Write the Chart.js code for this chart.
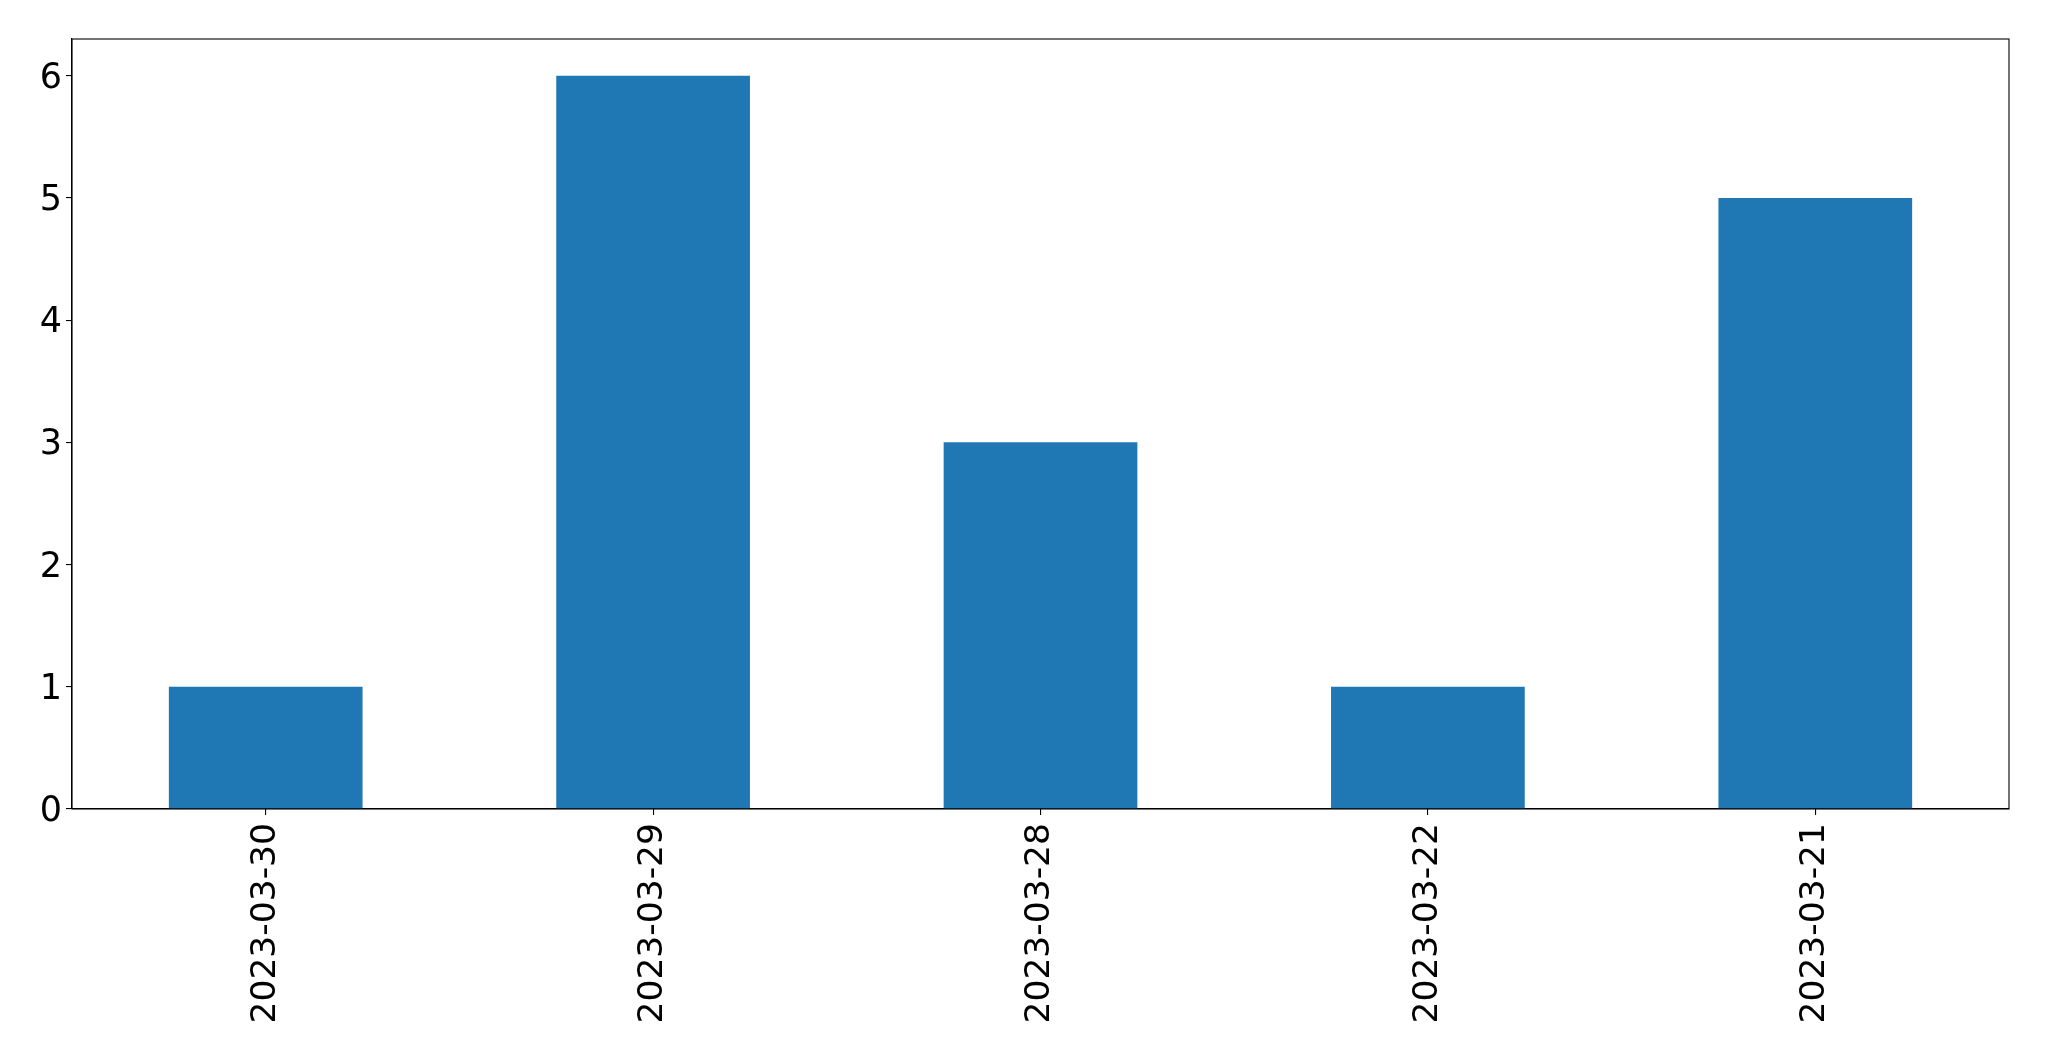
<!DOCTYPE html>
<html>
<head>
<meta charset="utf-8">
<script src="https://cdn.jsdelivr.net/npm/chart.js@4/dist/chart.umd.min.js"></script>
<style>
  html, body { margin: 0; padding: 0; background: #fff; }
  #wrap { width: 2049px; height: 1061px; }
</style>
</head>
<body>
<div id="wrap"><canvas id="myChart" width="2049" height="1061"></canvas></div>
<script>
// data
var dates = ["2023-03-30", "2023-03-29", "2023-03-28", "2023-03-22", "2023-03-21"];
var counts = [1, 6, 3, 1, 5];
var yTicks = [0, 1, 2, 3, 4, 5, 6];

var barColor = "#1f77b4";
var fontFamily = "'DejaVu Sans', sans-serif";

// matplotlib style frame around the plot area
var frameBox = {
    id: "frameBox",
    afterDraw: function (chart) {
        var a = chart.chartArea;
        var ctx = chart.ctx;
        ctx.save();
        ctx.strokeStyle = "#000";
        ctx.lineWidth = 1.1;
        ctx.strokeRect(a.left, a.top, a.right - a.left, a.bottom - a.top);
        ctx.restore();
    }
};

var ctx = document.getElementById("myChart").getContext("2d");
var myChart = new Chart(ctx, {
    type: "bar",
    data: {
        labels: dates,
        datasets: [{
            data: counts,
            backgroundColor: barColor,
            borderWidth: 0,
            barPercentage: 0.5,
            categoryPercentage: 1.0
        }]
    },
    options: {
        responsive: false,
        animation: false,
        devicePixelRatio: 1,
        layout: { padding: { top: 39, right: 40, left: 0, bottom: 0 } },
        plugins: {
            legend: { display: false },
            tooltip: { enabled: false }
        },
        scales: {
            x: {
                offset: true,
                grid: {
                    offset: false,
                    drawOnChartArea: false,
                    drawTicks: true,
                    tickLength: 6,
                    color: "#000",
                    lineWidth: 1.1
                },
                border: { display: true, color: "#000", width: 1.1 },
                ticks: {
                    color: "#000",
                    font: { family: fontFamily, size: 34.5 },
                    minRotation: 90,
                    maxRotation: 90,
                    padding: 8,
                    autoSkip: false
                },
                afterFit: function (scale) { scale.height = 1061 - 809; }
            },
            y: {
                min: 0,
                max: 6.3,
                grid: {
                    drawOnChartArea: false,
                    drawTicks: true,
                    tickLength: 6,
                    color: "#000",
                    lineWidth: 1.1
                },
                border: { display: true, color: "#000", width: 1.1 },
                ticks: {
                    color: "#000",
                    font: { family: fontFamily, size: 35 },
                    stepSize: 1,
                    includeBounds: false,
                    padding: 4,
                    labelOffset: 3
                },
                afterBuildTicks: function (scale) {
                    scale.ticks = yTicks.map(function (v) { return { value: v }; });
                },
                afterFit: function (scale) { scale.width = 72; }
            }
        }
    },
    plugins: [frameBox]
});
</script>
</body>
</html>
